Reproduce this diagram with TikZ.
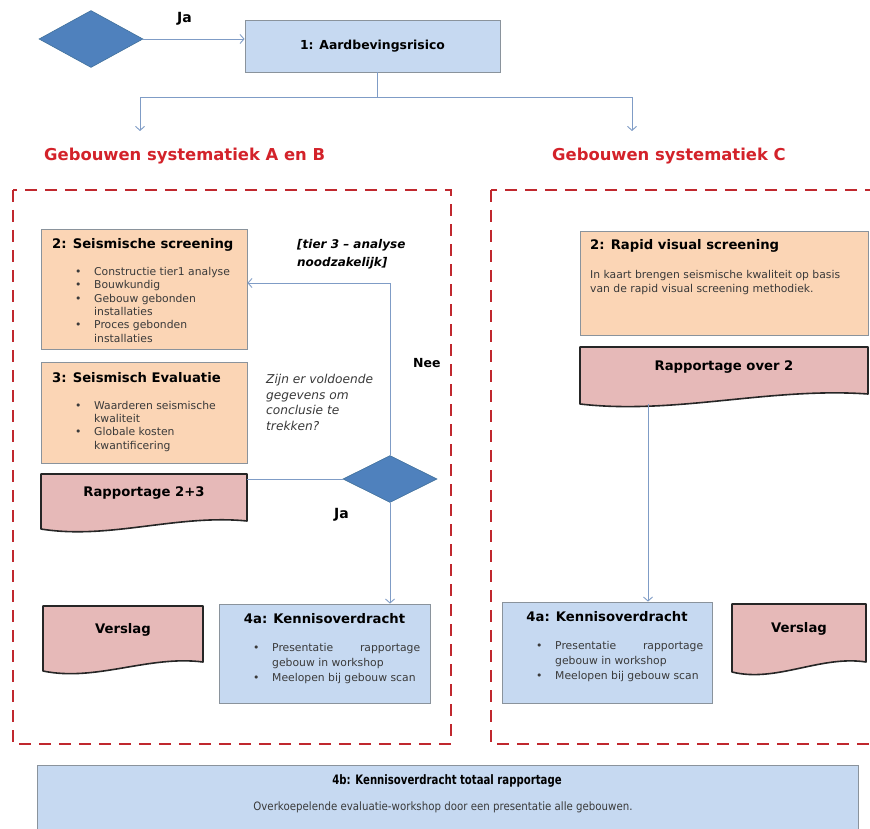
\documentclass[tikz,border=0pt]{standalone}
\usepackage{fontspec}
\setmainfont{DejaVu Sans}
\newfontfamily\narrowfont[FakeStretch=0.78]{DejaVu Sans}
\newfontfamily\semifont[FakeStretch=0.89]{DejaVu Sans}
\usetikzlibrary{arrows.meta,shapes.geometric,calc}

\definecolor{diafill}{HTML}{4F81BD}
\definecolor{diaedge}{HTML}{41719C}
\definecolor{bluefill}{HTML}{C6D9F1}
\definecolor{peachfill}{HTML}{FBD5B5}
\definecolor{pinkfill}{HTML}{E6B9B8}
\definecolor{boxedge}{HTML}{8A939C}
\definecolor{conncol}{HTML}{7F9CC6}
\definecolor{dashred}{HTML}{C0282E}
\definecolor{headred}{HTML}{D3222A}
\definecolor{bodytext}{HTML}{3A3A3A}

% bullet and continuation indent for list lines
\newcommand\bul{\makebox[19pt][l]{\textbullet}}
\newcommand\bulgap{\hspace*{19pt}}

% flowchart "document" shape: left x, top y, right x, bottom-left y, bottom-right y
\newcommand\docshape[5]{%
  \filldraw[docline] (#1,#2) -- (#3,#2) -- (#3,#5)
    .. controls ({#1+0.66*(#3-#1)},{#5-7}) and ({#1+0.33*(#3-#1)},{#4+11}) .. (#1,#4) -- cycle;}

% multi-line text nodes below are anchored at the baseline of their last line
\tikzset{
  conn/.style={draw=conncol, line width=0.9pt},
  tip/.style={-{Straight Barb[length=4pt,width=9pt,line width=0.9pt]}},
  decision/.style={diamond, fill=diafill, draw=diaedge, line width=0.6pt, inner sep=0pt},
  bluebox/.style={rectangle, fill=bluefill, draw=boxedge, line width=0.8pt, inner sep=0pt},
  peachbox/.style={rectangle, fill=peachfill, draw=boxedge, line width=0.8pt, inner sep=0pt},
  docline/.style={fill=pinkfill, draw=black!85, line width=1.6pt, line join=round},
  group/.style={draw=dashred, line width=2.8pt, dash pattern=on 12pt off 8pt},
  heading/.style={font=\fontsize{16.4}{19}\selectfont\bfseries, text=headred, inner sep=0pt},
  boxtitle/.style={font=\fontsize{13.2}{16}\selectfont\bfseries, inner sep=0pt},
  listtext/.style={font=\fontsize{10.8}{13.3}\selectfont, text=bodytext, align=left, inner sep=0pt},
  bluelist/.style={font=\fontsize{10.8}{15}\selectfont, text=bodytext, align=left, inner sep=0pt},
  lbl/.style={font=\fontsize{12.5}{16}\selectfont\bfseries, inner sep=0pt},
  jalbl/.style={font=\fontsize{14}{16}\selectfont\bfseries, inner sep=0pt},
}

\begin{document}
\begin{tikzpicture}[x=1pt, y=-1pt]
\useasboundingbox (0,0) rectangle (870,829);
\fill[white] (0,0) rectangle (870,829);
\clip (0,0) rectangle (870,829);

% ---- top: entry decision and step 1
\node[decision, minimum width=104pt, minimum height=57pt] (d1) at (91,39) {};
\node[bluebox, minimum width=255pt, minimum height=52pt] (b1) at (372.5,46) {};
\node[boxtitle, font=\fontsize{12.4}{15}\selectfont\bfseries] (b1t) at (372.5,46) {1: Aardbevingsrisico};
\node[jalbl, anchor=base west] (ja1) at (177,23) {Ja};
\draw[conn, tip] (d1.east) -- (d1.east -| b1.west);

\coordinate (split) at (377,97);
\coordinate (aL) at (140,131);
\coordinate (aR) at (632,131);
\draw[conn] (b1.south -| split) -- (split);
\draw[conn, tip] (split) -| (aL);
\draw[conn, tip] (split) -| (aR);

\node[heading, anchor=base west] (hA) at (44,161) {Gebouwen systematiek A en B};
\node[heading, anchor=base west] (hC) at (552,161) {Gebouwen systematiek C};

% ---- group A en B
\draw[group] (13,190) rectangle (451,744);

\node[peachbox, minimum width=206pt, minimum height=120pt] (s2) at (144,289) {};
\node[boxtitle, anchor=base west] (s2t) at (52,248) {2: Seismische screening};
\node[listtext, anchor=base west] (s2l) at (75,342)
  {\bul Constructie tier1 analyse\\
   \bul Bouwkundig\\
   \bul Gebouw gebonden\\
   \bulgap installaties\\
   \bul Proces gebonden\\
   \bulgap installaties};

\node[peachbox, minimum width=206pt, minimum height=101pt] (s3) at (144,412.5) {};
\node[boxtitle, anchor=base west] (s3t) at (52,382) {3: Seismisch Evaluatie};
\node[listtext, anchor=base west] (s3l) at (75,449)
  {\bul Waarderen seismische\\
   \bulgap kwaliteit\\
   \bul Globale kosten\\
   \bulgap kwantificering};

\docshape{41}{474}{247}{529}{521}
\node[boxtitle, anchor=base] (r23) at (144,496) {Rapportage 2+3};

\node[decision, minimum width=94pt, minimum height=47pt] (d2) at (390,479) {};
\node[lbl, font=\fontsize{12}{18}\selectfont\bfseries\itshape, anchor=base west, align=left] (tier) at (297,266)
  {[tier 3 – analyse\\noodzakelijk]};
\node[font=\fontsize{12.2}{15.5}\selectfont\itshape, text=bodytext, anchor=base west, align=left, inner sep=0pt] (q) at (266,430)
  {Zijn er voldoende\\gegevens om\\conclusie te\\trekken?};
\node[lbl, anchor=base west] (nee) at (413,367) {Nee};
\node[jalbl, anchor=base west] (ja2) at (334,518) {Ja};

\draw[conn, tip] (d2.north) |- ([yshift=6pt]s2.east);
\draw[conn] (d2.west) -- (d2.west -| s3.east);

\node[bluebox, minimum width=211pt, minimum height=99pt] (k4L) at (324.5,653.5) {};
\node[boxtitle, anchor=base] (k4Lt) at (324.5,623) {4a: Kennisoverdracht};
\node[bluelist, anchor=base west] (k4Ll) at (253,681)
  {\bul\makebox[148pt][s]{Presentatie\hfill rapportage}\\
   \bulgap gebouw in workshop\\
   \bul Meelopen bij gebouw scan};
\draw[conn, tip] (d2.south) -- (d2.south |- k4L.north);

\docshape{43}{606}{203}{671}{662}
\node[boxtitle, anchor=base] (vL) at (123,633) {Verslag};

% ---- group C
\draw[group] (491,190) rectangle (890,744);

\node[peachbox, minimum width=288pt, minimum height=104pt] (rv2) at (724,283) {};
\node[boxtitle, anchor=base west] (rv2t) at (590,250) {2: Rapid visual screening};
\node[font=\fontsize{10.8}{14}\selectfont, text=bodytext, align=left, inner sep=0pt, anchor=base west] (rv2l) at (590,292)
  {In kaart brengen seismische kwaliteit op basis\\van de rapid visual screening methodiek.};

\docshape{580}{347}{868}{404}{394}
\node[boxtitle, anchor=base] (ro2) at (724,370) {Rapportage over 2};
\coordinate (ro2b) at (648,404);

\node[bluebox, minimum width=210pt, minimum height=101pt] (k4R) at (607,652.5) {};
\node[boxtitle, anchor=base] (k4Rt) at (607,621) {4a: Kennisoverdracht};
\node[bluelist, anchor=base west] (k4Rl) at (536,679)
  {\bul\makebox[148pt][s]{Presentatie\hfill rapportage}\\
   \bulgap gebouw in workshop\\
   \bul Meelopen bij gebouw scan};
\draw[conn, tip] (ro2b) -- (ro2b |- k4R.north);

\docshape{732}{604}{866}{672}{662}
\node[boxtitle, anchor=base] (vR) at (799,632) {Verslag};

% ---- step 4b across all buildings
\node[bluebox, minimum width=821pt, minimum height=75pt] (k4b) at (447.5,802.5) {};
\node[font=\narrowfont\fontsize{13}{16}\selectfont\bfseries, inner sep=0pt, anchor=base] (k4bt) at (447,784)
  {4b: Kennisoverdracht totaal rapportage};
\node[font=\semifont\fontsize{11.5}{14}\selectfont, text=bodytext, inner sep=0pt, anchor=base] (k4bl) at (443,810)
  {Overkoepelende evaluatie-workshop door een presentatie alle gebouwen.};
\end{tikzpicture}
\end{document}
